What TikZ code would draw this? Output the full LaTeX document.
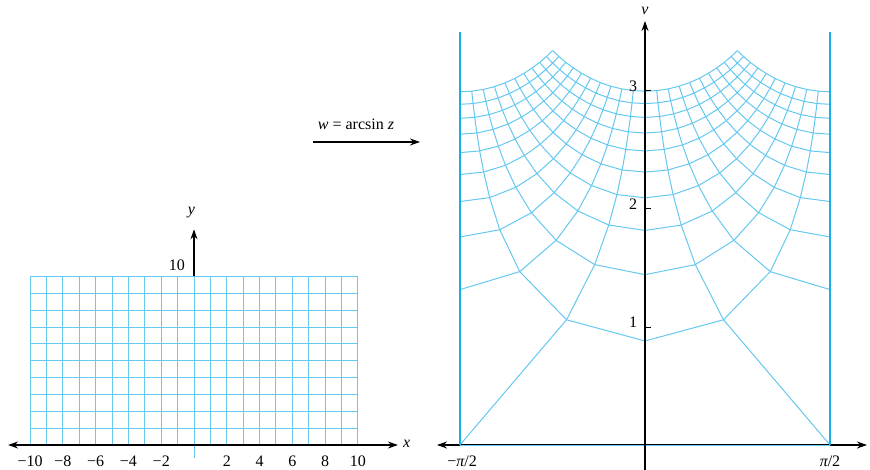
\documentclass[tikz,border=0pt]{standalone}
\usepackage{fontspec}
\setmainfont{Liberation Serif}
\usetikzlibrary{arrows.meta}
\definecolor{gridc}{RGB}{100,200,240}
\definecolor{edgec}{RGB}{25,175,230}
\tikzset{
  gridline/.style={draw=gridc, line width=1pt},
  axis/.style={draw=black, line width=1.4pt},
  arr/.style={-{Stealth[length=10pt,width=7pt]}},
  darr/.style={{Stealth[length=10pt,width=7pt]}-{Stealth[length=10pt,width=7pt]}},
  lbl/.style={font=\fontsize{16}{18}\selectfont, inner sep=1pt},
  edge/.style={draw=edgec, line width=2.4pt},
}
\begin{document}
\begin{tikzpicture}[x=1pt,y=-1pt]
\path[use as bounding box] (0,0) rectangle (870,470);
% ---------- left plane ----------
\begin{scope}[shift={(194,445)}, x=16.38pt, y=16.85pt]
  \draw[gridline, step=1] (-10,0) grid (10,10);
  \draw[gridline] (0,0) -- (0,-0.78);
  \coordinate (xl) at (-11.35,0);
  \coordinate (xr) at (12.45,0);
  \coordinate (yb) at (0,10);
  \coordinate (yt) at (0,12.8);
  \draw[axis,darr] (xl) -- (xr);
  \draw[axis,arr] (yb) -- (yt);
  \node[lbl,anchor=west] (xlab) at (12.7,0.05) {\itshape x};
  \node[lbl] (ylab) at (-0.15,13.8) {\itshape y};
  \node[lbl] (ten) at (-1.05,10.65) {10};
  \foreach \k/\t in {-10/−10,-8/−8,-6/−6,-4/−4,-2/−2,2/2,4/4,6/6,8/8,10/10}{
    \node[lbl] (t\k) at (\k,-0.95) {\t};
  }
\end{scope}
% ---------- map arrow ----------
\coordinate (ma) at (313,142);
\coordinate (mb) at (420,142);
\draw[line width=1.4pt,arr] (ma) -- (mb);
\node[lbl] (mlab) at (356,124) {{\itshape w} = arcsin {\itshape z}};
% ---------- image points ----------
\foreach \i in {-10,...,10}{
  \foreach \j in {0,...,10}{
    \pgfmathsetmacro\ra{sqrt((\i+1)^2+(\j)^2)}
    \pgfmathsetmacro\rb{sqrt((\i-1)^2+(\j)^2)}
    \pgfmathsetmacro\su{max(-1,min(1,(\ra-\rb)/2))}
    \pgfmathsetmacro\uu{rad(asin(\su))}
    \pgfmathsetmacro\al{max(1,(\ra+\rb)/2)}
    \pgfmathsetmacro\vv{ln(\al+sqrt(max(0,\al*\al-1)))}
    \coordinate (p\i_\j) at ({645+117.8*\uu},{445-118*\vv});
  }
}
\foreach \i in {-10,...,10}{
  \draw[gridline] (p\i_0) \foreach \j in {1,...,10}{ -- (p\i_\j)};
}
\foreach \j in {0,...,10}{
  \draw[gridline] (p-10_\j) \foreach \i in {-9,...,10}{ -- (p\i_\j)};
}
% ---------- right axes ----------
\coordinate (ul) at (437,445);
\coordinate (ur) at (867,445);
\coordinate (vb) at (645,470);
\coordinate (vt) at (645,21);
\draw[axis,darr] (ul) -- (ur);
\draw[gridline] (p-1_0) -- (p1_0);
\draw[axis,arr] (vb) -- (vt);
\coordinate (el0) at (460,445);
\coordinate (el1) at (460,32);
\coordinate (er0) at (830,445);
\coordinate (er1) at (830,32);
\draw[edge] (el0) -- (el1);
\draw[edge] (er0) -- (er1);
\node[lbl] (vlab) at (645,11) {\itshape v};
\foreach \k/\py in {1/327,2/209,3/91}{
  \coordinate (tk\k) at (645,\py);
  \coordinate (te\k) at (651,\py);
  \draw[line width=1pt] (tk\k) -- (te\k);
  \node[lbl] (vl\k) at (633,\py-5) {\k};
}
\node[lbl] (mpi) at (462,461) {−{\itshape π}/2};
\node[lbl] (ppi) at (830,461) {{\itshape π}/2};
\end{tikzpicture}
\end{document}
